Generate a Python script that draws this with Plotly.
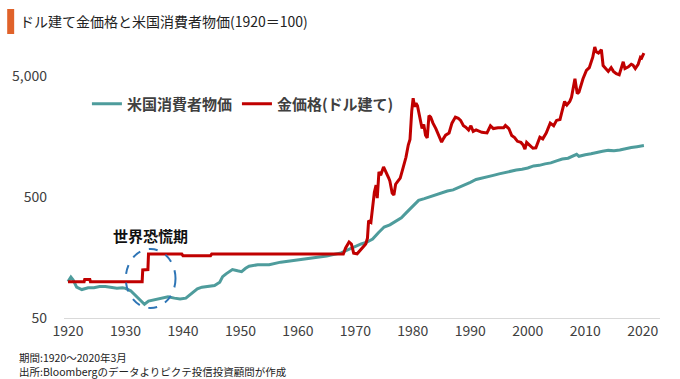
import math
import plotly.graph_objects as go

# ---------------- data ----------------
cpi_years = [1920.0, 1920.5, 1920.9, 1921.5, 1922.4, 1923.5, 1924.5, 1925.5, 1926.5, 1927.5,
             1928.5, 1929.5, 1930.0, 1930.9, 1931.9, 1932.9, 1933.3, 1934.0, 1935.0, 1936.0,
             1937.4, 1938.5, 1939.5, 1940.5, 1941.5, 1942.5, 1943.3, 1944.5, 1945.5, 1946.4,
             1946.9, 1947.5, 1948.6, 1949.5, 1950.2, 1950.9, 1951.5, 1953.0, 1955.0, 1957.0,
             1959.4, 1961.0, 1963.0, 1965.0, 1967.5, 1969.0, 1970.0, 1971.0, 1972.0, 1973.0,
             1974.0, 1975.0, 1976.0, 1977.0, 1978.0, 1979.0, 1980.0, 1981.0, 1982.0, 1983.0,
             1984.0, 1985.0, 1986.0, 1987.0, 1988.0, 1989.0, 1990.0, 1991.0, 1992.0, 1993.0,
             1994.0, 1995.0, 1996.0, 1997.0, 1998.0, 1999.0, 2000.0, 2001.0, 2002.0, 2003.0,
             2004.0, 2005.0, 2006.0, 2007.0, 2008.0, 2008.5, 2008.9, 2009.5, 2010.0, 2011.0,
             2012.0, 2013.0, 2014.0, 2015.0, 2016.0, 2017.0, 2018.0, 2019.0, 2020.0, 2020.2]
cpi_values = [100, 109, 103, 90, 86, 89, 89, 91, 91, 89,
              88, 89, 88, 84, 76, 68, 65, 69, 71, 72,
              75, 73, 72, 73, 79, 87, 90, 91, 93, 99,
              110, 116, 126, 123, 121, 129, 134, 138, 138, 145,
              150, 153, 158, 163, 173, 186, 197, 205, 212, 225,
              254, 283, 295, 315, 338, 378, 425, 471, 487, 506,
              527, 547, 563, 575, 600, 628, 663, 700, 716, 741,
              758, 780, 799, 827, 838, 853, 873, 907, 917, 943,
              961, 1000, 1036, 1051, 1096, 1132, 1090, 1110, 1124, 1143,
              1175, 1200, 1220, 1214, 1228, 1263, 1289, 1309, 1335, 1337]

gold_years = [1920.0, 1922.8, 1922.9, 1923.8, 1923.9, 1932.9, 1933.0, 1933.9, 1934.0, 1939.8,
              1940.0, 1944.8, 1945.0, 1967.9, 1968.3, 1968.9, 1969.3, 1969.7, 1970.3, 1971.2,
              1971.8, 1972.1, 1972.3, 1972.7, 1973.0, 1973.3, 1973.6, 1973.8, 1974.1, 1974.4,
              1974.9, 1975.3, 1975.8, 1976.0, 1976.4, 1976.7, 1977.0, 1977.3, 1977.8, 1978.2,
              1978.8, 1979.2, 1979.5, 1979.8, 1980.05, 1980.3, 1980.55, 1980.8, 1981.2, 1981.6,
              1981.9, 1982.2, 1982.5, 1982.8, 1983.1, 1983.5, 1984.0, 1984.5, 1985.0, 1985.4,
              1985.7, 1986.3, 1986.8, 1987.4, 1987.9, 1988.3, 1988.8, 1989.2, 1989.7, 1990.1,
              1990.5, 1991.0, 1991.5, 1992.0, 1992.9, 1993.5, 1994.0, 1994.8, 1995.8, 1996.1,
              1996.7, 1997.2, 1997.7, 1998.2, 1998.8, 1999.2, 1999.5, 1999.8, 2000.3, 2000.9,
              2001.4, 2002.1, 2002.6, 2003.2, 2003.9, 2004.5, 2005.0, 2005.6, 2005.9, 2006.4,
              2006.8, 2007.3, 2007.6, 2008.2, 2008.6, 2008.9, 2009.6, 2010.2, 2010.7, 2011.0,
              2011.3, 2011.65, 2011.9, 2012.3, 2012.8, 2013.1, 2013.5, 2014.0, 2014.5, 2014.9,
              2015.4, 2015.9, 2016.6, 2016.9, 2017.5, 2018.0, 2018.3, 2018.7, 2019.2, 2019.6,
              2019.8, 2020.2]
gold_values = [100, 100, 104, 104, 100, 100, 125, 126, 169, 169,
               164, 164, 169, 169, 190, 213, 205, 172, 170, 190,
               205, 229, 320, 310, 420, 550, 630, 490, 810, 760,
               890, 820, 720, 680, 540, 520, 640, 670, 720, 840,
               1070, 1350, 1500, 2570, 3300, 2800, 3000, 2860, 2350, 1850,
               2000, 1630, 1550, 2370, 2300, 2050, 1850, 1650, 1430, 1550,
               1630, 1700, 2050, 2300, 2250, 2160, 1950, 1900, 1800, 1950,
               1750, 1800, 1750, 1720, 1700, 1950, 1850, 1880, 1880, 1960,
               1850, 1620, 1560, 1450, 1420, 1350, 1250, 1420, 1350, 1270,
               1280, 1570, 1520, 1700, 2050, 1950, 2160, 2200, 2500, 3100,
               2900, 3100, 3350, 4780, 3600, 3700, 4780, 5600, 5900, 6400,
               7200, 8750, 8000, 7800, 8300, 6150, 5900, 5500, 5900, 5500,
               5260, 5150, 6600, 5800, 6000, 6300, 6200, 5800, 6300, 7200,
               7100, 7800]

x_ticks = [1920, 1930, 1940, 1950, 1960, 1970, 1980, 1990, 2000, 2010, 2020]
y_ticks = [50, 500, 5000]
y_ticktext = ["50", "500", "5,000"]

cpi_name = "米国消費者物価"
gold_name = "金価格(ドル建て)"
title_text = "ドル建て金価格と米国消費者物価(1920＝100)"
note_lines = ["期間:1920～2020年3月", "出所:Bloombergのデータよりピクテ投信投資顧問が作成"]
crisis_label = "世界恐慌期"
crisis_years = [1930.05, 1938.7]
crisis_label_pos = [1934.3, 242]

# ---------------- figure ----------------
FONT = "Noto Sans CJK JP, Noto Sans, sans-serif"
CPI_COLOR = "#4E9C9C"
GOLD_COLOR = "#C00000"

fig = go.Figure()
fig.add_trace(go.Scatter(x=cpi_years, y=cpi_values, mode="lines", name="<b>" + cpi_name + "</b>",
                         line=dict(color=CPI_COLOR, width=3)))
fig.add_trace(go.Scatter(x=gold_years, y=gold_values, mode="lines", name="<b>" + gold_name + "</b>",
                         line=dict(color=GOLD_COLOR, width=3)))

L, R, T, B = 62, 20, 40, 61
W, H = 680, 379
pw, ph = W - L - R, H - T - B


def px_x(p):
    return (p - L) / pw


def px_y(p):
    return (H - B - p) / ph


fig.update_layout(
    width=W, height=H,
    margin=dict(l=L, r=R, t=T, b=B),
    paper_bgcolor="white", plot_bgcolor="white",
    font=dict(family=FONT, color="#404040"),
    showlegend=True,
    legend=dict(orientation="h", x=px_x(85), y=px_y(104), xanchor="left", yanchor="middle",
                font=dict(size=15, color="#404040", family=FONT),
                bgcolor="rgba(0,0,0,0)", itemwidth=30),
    xaxis=dict(range=[1919.3, 2023], tickvals=x_ticks, showgrid=False, zeroline=False,
               showline=True, linecolor="#d9d9d9", linewidth=1, ticks="",
               tickfont=dict(size=14, color="#404040", family=FONT)),
    yaxis=dict(type="log", range=[math.log10(50), 4.0], tickvals=y_ticks, ticktext=y_ticktext,
               showgrid=False, zeroline=False, showline=False, ticks="",
               ticklabelstandoff=16,
               tickfont=dict(size=14, color="#404040", family=FONT)),
)

# title bar + title
fig.add_shape(type="rect", xref="paper", yref="paper",
              x0=px_x(5), x1=px_x(12), y0=px_y(34), y1=px_y(9),
              fillcolor="#E0622A", line=dict(width=0))
fig.add_annotation(xref="paper", yref="paper", x=px_x(16), y=px_y(21), xanchor="left",
                   yanchor="middle", text=title_text, showarrow=False,
                   font=dict(size=14, color="#222222", family=FONT))

# footer notes
for i, line in enumerate(note_lines):
    fig.add_annotation(xref="paper", yref="paper", x=px_x(15), y=px_y(357 + 14 * i),
                       xanchor="left", yanchor="middle", text=line, showarrow=False,
                       font=dict(size=10.5, color="#222222", family=FONT))

# great depression marker
fig.add_shape(type="circle", xref="x", yref="paper",
              x0=crisis_years[0], x1=crisis_years[1],
              y0=px_y(308), y1=px_y(249),
              line=dict(color="#2E75B6", width=2, dash="dash"), fillcolor="rgba(0,0,0,0)")
fig.add_annotation(xref="x", yref="y", x=crisis_label_pos[0], y=math.log10(crisis_label_pos[1]),
                   text="<b>" + crisis_label + "</b>", showarrow=False,
                   font=dict(size=15, color="#111111", family=FONT))

fig.write_html("out.html", config={"displayModeBar": False},
               post_script="document.body.style.margin='0';")
